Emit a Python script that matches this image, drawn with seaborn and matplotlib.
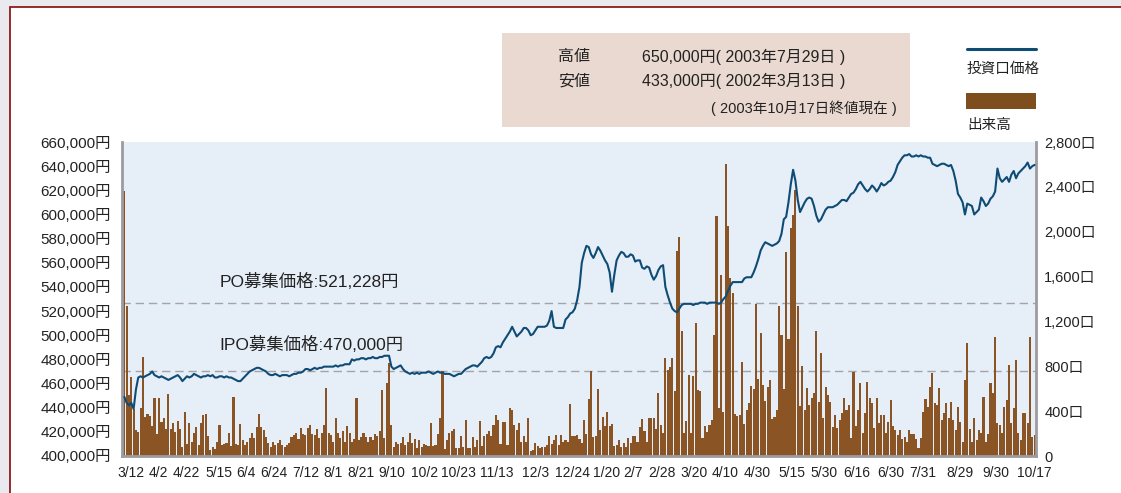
import numpy as np
import pandas as pd
import matplotlib
matplotlib.use("Agg")
import matplotlib.pyplot as plt
from matplotlib.patches import Rectangle
from matplotlib.lines import Line2D
from matplotlib.transforms import blended_transform_factory
import seaborn as sns

# ---------------- data ----------------
# daily closing price (thousand yen), 2002/3/12 - 2003/10/17
price_k = [
    449, 444, 442, 444, 439, 455, 465, 466, 465, 466,
    467, 468, 470, 467, 466, 465, 466, 465, 464, 463,
    464, 465, 466, 467, 465, 462, 464, 466, 465, 466,
    468, 467, 466, 465, 466, 466, 467, 466, 467, 465,
    465, 466, 466, 465, 466, 465, 465, 464, 463, 462,
    462, 464, 466, 468, 470, 471, 472, 473, 473, 472,
    471, 470, 468, 467, 467, 468, 467, 466, 467, 467,
    467, 466, 467, 468, 468, 469, 469, 470, 472, 472,
    471, 472, 473, 472, 473, 473, 474, 474, 474, 474,
    474, 475, 474, 475, 475, 476, 476, 476, 480, 479,
    480, 480, 481, 481, 480, 481, 481, 482, 481, 481,
    482, 482, 483, 483, 483, 474, 472, 473, 474, 475,
    472, 470, 469, 468, 469, 468, 469, 468, 469, 469,
    469, 470, 469, 468, 469, 470, 469, 469, 468, 468,
    468, 467, 466, 467, 468, 468, 470, 472, 473, 474,
    475, 475, 474, 476, 478, 481, 482, 481, 482, 485,
    490, 491, 490, 494, 497, 500, 503, 507, 503, 499,
    501, 503, 506, 506, 504, 500, 501, 504, 507, 507,
    507, 507, 508, 512, 520, 507, 506, 506, 506, 506,
    513, 515, 518, 519, 522, 529, 540, 560, 568, 574,
    573, 567, 564, 568, 573, 570, 566, 562, 559, 552,
    536, 550, 562, 566, 569, 568, 565, 565, 567, 566,
    561, 562, 562, 556, 555, 557, 556, 550, 546, 549,
    554, 557, 558, 540, 533, 527, 522, 520, 519, 522,
    525, 526, 526, 526, 526, 525, 526, 526, 527, 527,
    527, 526, 527, 527, 527, 527, 526, 527, 530, 532,
    537, 541, 544, 544, 544, 544, 544, 547, 548, 548,
    548, 552, 557, 563, 570, 574, 577, 576, 575, 574,
    575, 576, 578, 584, 596, 598, 610, 625, 637, 628,
    612, 602, 606, 610, 613, 614, 613, 607, 599, 594,
    596, 600, 604, 606, 606, 606, 607, 608, 610, 612,
    612, 611, 614, 617, 618, 621, 625, 627, 624, 621,
    619, 621, 624, 622, 619, 622, 626, 624, 625, 627,
    628, 631, 635, 641, 644, 647, 649, 649, 650, 648,
    648, 649, 648, 649, 648, 648, 647, 647, 642, 641,
    640, 641, 642, 642, 641, 640, 641, 636, 628, 617,
    614, 610, 600, 609, 608, 607, 600, 602, 604, 614,
    611, 607, 609, 613, 615, 619, 638, 630, 627, 629,
    631, 627, 633, 636, 630, 634, 636, 638, 640, 643,
    638, 640, 641,
]

# daily trading volume (units, 口)
volume = [
    2365, 1340, 545, 707, 420, 232, 217, 425, 880, 350,
    374, 356, 267, 520, 196, 514, 306, 336, 238, 552,
    238, 291, 217, 315, 238, 77, 395, 107, 297, 128,
    208, 261, 98, 297, 365, 374, 178, 53, 77, 59,
    128, 276, 95, 107, 113, 202, 90, 529, 110, 95,
    285, 143, 98, 128, 157, 208, 160, 261, 374, 255,
    232, 172, 120, 83, 128, 98, 113, 140, 98, 83,
    98, 120, 172, 187, 208, 150, 247, 200, 187, 247,
    276, 200, 187, 238, 160, 202, 276, 603, 202, 187,
    128, 336, 202, 160, 226, 128, 267, 202, 128, 150,
    514, 143, 166, 208, 172, 128, 172, 143, 200, 175,
    226, 588, 163, 653, 831, 276, 83, 128, 110, 113,
    172, 98, 128, 202, 113, 148, 68, 143, 80, 110,
    98, 89, 291, 89, 98, 196, 336, 757, 60, 143,
    208, 226, 238, 68, 70, 178, 83, 321, 68, 74,
    172, 83, 143, 312, 89, 178, 196, 226, 178, 280,
    365, 321, 107, 306, 306, 98, 425, 410, 276, 232,
    297, 128, 178, 128, 336, 48, 53, 113, 89, 74,
    83, 77, 98, 178, 107, 143, 187, 98, 187, 128,
    143, 128, 463, 178, 180, 187, 148, 120, 321, 200,
    505, 757, 172, 178, 594, 232, 350, 267, 395, 267,
    285, 89, 98, 143, 83, 113, 80, 157, 120, 178,
    178, 128, 261, 327, 223, 128, 335, 335, 335, 238,
    558, 276, 202, 870, 766, 796, 870, 582, 1830, 1954,
    1117, 202, 315, 722, 202, 713, 1182, 588, 582, 163,
    267, 214, 276, 321, 1078, 2138, 425, 1613, 395, 2602,
    2049, 1583, 1450, 374, 356, 365, 840, 285, 410, 469,
    624, 594, 1354, 686, 1099, 633, 493, 612, 677, 330,
    345, 410, 1336, 1078, 594, 1820, 1040, 2037, 2147, 2370,
    1336, 445, 802, 410, 603, 454, 515, 560, 1114, 480,
    915, 336, 618, 543, 484, 261, 365, 246, 321, 380,
    520, 410, 454, 157, 751, 267, 410, 647, 208, 380,
    662, 514, 469, 246, 514, 291, 365, 365, 202, 300,
    499, 267, 232, 187, 232, 148, 166, 128, 232, 200,
    196, 148, 68, 157, 395, 505, 440, 618, 743, 469,
    454, 603, 321, 380, 469, 336, 484, 321, 232, 440,
    306, 128, 677, 1010, 238, 128, 336, 143, 232, 202,
    523, 128, 196, 653, 558, 1057, 291, 276, 202, 440,
    499, 811, 291, 425, 855, 202, 143, 380, 380, 291,
    1063, 172, 187,
]

tick_labels = ["3/12", "4/2", "4/22", "5/15", "6/4", "6/24", "7/12", "8/1", "8/21",
               "9/10", "10/2", "10/23", "11/13", "12/3", "12/24", "1/20", "2/7",
               "2/28", "3/20", "4/10", "4/30", "5/15", "5/30", "6/16", "6/30",
               "7/31", "8/29", "9/30", "10/17"]
tick_pos = [2.9, 14.6, 26.6, 40.7, 52.3, 64.5, 78.1, 89.7, 102.0, 115.0, 129.2,
            143.8, 160.5, 177.3, 193.2, 207.8, 219.0, 231.5, 245.2, 258.9, 272.7,
            287.3, 301.5, 315.2, 330.0, 343.8, 360.0, 375.4, 392.0]

price_ticks = list(range(400000, 660001, 20000))
volume_ticks = [0, 400, 800, 1200, 1600, 2000, 2400, 2800]

ipo_price = 470000
po_price = 521228
po_line_level = 527000  # level at which the PO reference line is drawn in the original

high_text = "650,000円( 2003年7月29日 )"
low_text = "433,000円( 2002年3月13日 )"
asof_text = "( 2003年10月17日終値現在 )"

# ---------------- style ----------------
sns.set_theme(style="white")
plt.rcParams['font.family'] = ['Liberation Sans', 'Noto Sans CJK JP']

LINE_C = '#0f4c75'
BAR_C = '#8b5424'
TXT_C = '#222222'

n = len(volume)
df = pd.DataFrame({"day": np.arange(n), "volume": volume,
                   "price": np.array(price_k) * 1000})

W, H = 1121, 493
def fx(px):
    return px / W
def fy(py):
    return 1 - py / H

fig = plt.figure(figsize=(W / 100, H / 100), dpi=100)
fig.patch.set_facecolor('#e9e9ef')

# white panel with dark red frame
fig.patches.append(Rectangle((fx(10), -0.2), 1.5, fy(7) + 0.2, transform=fig.transFigure,
                             facecolor='white', edgecolor='#8b1c1c', linewidth=1.3, zorder=-10))
# info box
fig.patches.append(Rectangle((fx(502), fy(127)), fx(910) - fx(502), fy(33) - fy(127),
                             transform=fig.transFigure, facecolor='#e9d9d0', edgecolor='none', zorder=-5))
fig.text(fx(558), fy(57), "高値", fontsize=11.5, color=TXT_C, va='center', ha='left')
fig.text(fx(642), fy(57), high_text, fontsize=11.5, color=TXT_C, va='center', ha='left')
fig.text(fx(558), fy(81), "安値", fontsize=11.5, color=TXT_C, va='center', ha='left')
fig.text(fx(642), fy(81), low_text, fontsize=11.5, color=TXT_C, va='center', ha='left')
fig.text(fx(897), fy(108), asof_text, fontsize=10.5, color=TXT_C, va='center', ha='right')

# legend
fig.lines.append(Line2D([fx(967), fx(1036)], [fy(49), fy(49)], transform=fig.transFigure,
                        color=LINE_C, linewidth=2.2))
fig.text(fx(967), fy(69), "投資口価格", fontsize=10.5, color=TXT_C, va='center', ha='left')
fig.patches.append(Rectangle((fx(966), fy(109)), fx(1036) - fx(966), fy(93) - fy(109),
                             transform=fig.transFigure, facecolor='#7f4e1f', edgecolor='none'))
fig.text(fx(967), fy(125), "出来高", fontsize=10.5, color=TXT_C, va='center', ha='left')

# ---------------- axes ----------------
ax = fig.add_axes([fx(122), fy(456), fx(1036) - fx(122), fy(142) - fy(456)])
ax.set_facecolor('#e6eef8')

XL = (-1.0, n - 0.4)
sns.barplot(data=df, x="day", y="volume", ax=ax, color=BAR_C, saturation=1,
            width=0.9, linewidth=0, zorder=2)
ax.set_xlim(*XL)
ax.set_ylim(0, 2800)

ax2 = ax.twinx()
ax2.set_ylim(400000, 660000)
sns.lineplot(data=df, x="day", y="price", ax=ax2, color=LINE_C, linewidth=1.5)
ax2.set_xlim(*XL)

# reference lines (behind bars)
trans = blended_transform_factory(ax.transAxes, ax2.transData)
for lvl in (ipo_price, po_line_level):
    ax.plot([0, 1], [lvl, lvl], transform=trans, color='#a3a3a8', linewidth=1.0,
            linestyle=(0, (6, 3.5)), zorder=1)
ax.set_ylim(0, 2800)

tr2 = blended_transform_factory(ax2.transAxes, ax2.transData)
ax2.text(0.107, 544500, f"PO募集価格:{po_price:,}円", transform=tr2,
         fontsize=12.5, color=TXT_C, va='center', ha='left')
ax2.text(0.107, 492500, f"IPO募集価格:{ipo_price:,}円", transform=tr2,
         fontsize=12.5, color=TXT_C, va='center', ha='left')

# ticks
ax.yaxis.tick_right()
ax.set_yticks(volume_ticks)
ax.set_yticklabels(["0" if v == 0 else f"{v:,}口" for v in volume_ticks])
ax2.yaxis.tick_left()
ax2.yaxis.set_label_position('left')
ax2.set_yticks(price_ticks)
ax2.set_yticklabels([f"{p:,}円" for p in price_ticks])
ax.set_xticks(tick_pos)
ax.set_xticklabels(tick_labels)

ax.tick_params(axis='y', length=0, pad=6, labelsize=10.5, labelcolor=TXT_C,
               right=True, left=False, labelright=True, labelleft=False)
ax.tick_params(axis='x', length=0, pad=7, labelsize=10, labelcolor=TXT_C)
ax2.tick_params(axis='y', length=0, pad=8, labelsize=11, labelcolor=TXT_C,
                left=True, right=False, labelleft=True, labelright=False)

for a in (ax, ax2):
    a.set_xlabel("")
    a.set_ylabel("")
for s in ax2.spines.values():
    s.set_visible(False)
ax.spines['top'].set_visible(False)
for side in ('left', 'right', 'bottom'):
    ax.spines[side].set_visible(True)
    ax.spines[side].set_color('#9c9ca0')
    ax.spines[side].set_linewidth(2.0)

fig.savefig("out.png", dpi=100, facecolor=fig.get_facecolor())
